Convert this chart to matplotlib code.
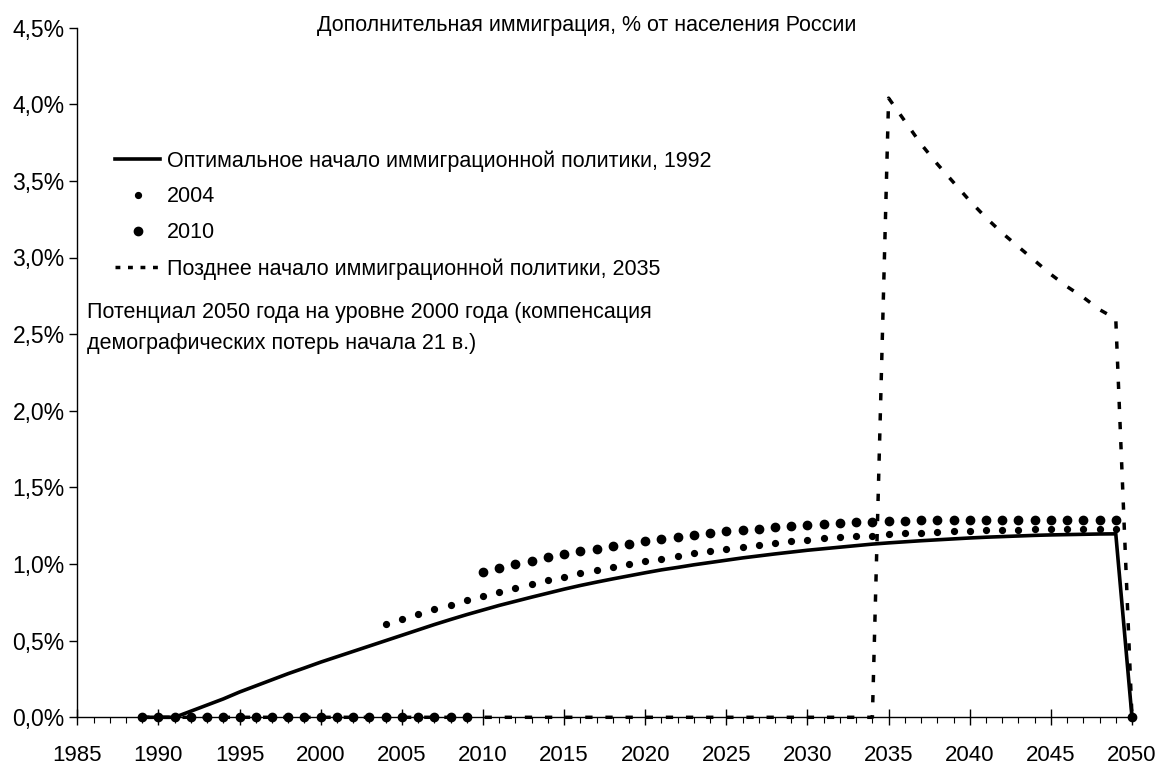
import matplotlib
matplotlib.use('Agg')
import matplotlib.pyplot as plt
from matplotlib.ticker import MultipleLocator, FuncFormatter
from matplotlib.lines import Line2D
from matplotlib import font_manager
from matplotlib.font_manager import FontProperties

# ---------------- data (values in % of population) ----------------
years = list(range(1989, 2051))

optimal_1992 = [0, 0, 0,
                0.04, 0.08, 0.12, 0.165, 0.205, 0.245, 0.285, 0.322,
                0.36, 0.395, 0.43, 0.465, 0.50, 0.535, 0.57, 0.605, 0.638, 0.67,
                0.70, 0.73, 0.757, 0.784, 0.81, 0.836, 0.86, 0.882, 0.903, 0.923,
                0.943, 0.962, 0.978, 0.995, 1.01, 1.025, 1.04, 1.053, 1.066, 1.078,
                1.09, 1.10, 1.11, 1.12, 1.13, 1.138, 1.145, 1.152, 1.158, 1.164,
                1.17, 1.175, 1.179, 1.183, 1.187, 1.19, 1.192, 1.194, 1.196, 1.197,
                0]

start_2004 = [0] * 15 + [
    0.609, 0.641, 0.674, 0.704, 0.735, 0.763,
    0.791, 0.817, 0.846, 0.87, 0.896,
    0.917, 0.939, 0.961, 0.98, 1.0,
    1.02, 1.035, 1.052, 1.07, 1.085,
    1.098, 1.113, 1.124, 1.135, 1.15,
    1.158, 1.167, 1.176, 1.182, 1.186,
    1.195, 1.2, 1.205, 1.21, 1.213,
    1.217, 1.219, 1.223, 1.225, 1.227,
    1.229, 1.229, 1.231, 1.231, 1.231,
    0]

start_2010 = [0] * 21 + [
    0.95, 0.974, 0.998, 1.022, 1.044,
    1.065, 1.083, 1.098, 1.115, 1.133,
    1.148, 1.161, 1.174, 1.189, 1.202,
    1.213, 1.222, 1.23, 1.239, 1.251,
    1.257, 1.263, 1.268, 1.273, 1.277,
    1.281, 1.283, 1.285, 1.287, 1.29,
    1.29, 1.29, 1.29, 1.29, 1.29,
    1.289, 1.289, 1.288, 1.288, 1.287,
    0]

late_2035 = [0] * 46 + [
    4.04, 3.89, 3.74, 3.61, 3.49, 3.37, 3.26, 3.16, 3.07, 2.98,
    2.89, 2.81, 2.74, 2.66, 2.60,
    0]

labels = ["Оптимальное начало иммиграционной политики, 1992",
          "2004",
          "2010",
          "Позднее начало иммиграционной политики, 2035"]
title = "Дополнительная иммиграция, % от населения России"
note = ("Потенциал 2050 года на уровне 2000 года (компенсация\n"
        "демографических потерь начала 21 в.)")

# ---------------- fonts ----------------
def pick(name, default='Liberation Sans'):
    try:
        font_manager.findfont(FontProperties(family=name), fallback_to_default=False)
        return name
    except Exception:
        return default

REG = pick('Liberation Sans', 'DejaVu Sans')
plt.rcParams['font.family'] = [REG, 'DejaVu Sans']

# ---------------- figure ----------------
W, H = 1164, 769
fig = plt.figure(figsize=(W / 100, H / 100), dpi=100)
fig.patch.set_facecolor('white')
ax = fig.add_axes([77.3 / W, 1 - 717.3 / H, (1132 - 77.3) / W, (717.3 - 27.6) / H])

lw_line = 2.6
ax.plot(years, optimal_1992, color='black', lw=lw_line, solid_joinstyle='miter',
        zorder=3, clip_on=False)
ax.plot(years, start_2004, linestyle='none', marker='o', markersize=4.2,
        color='black', zorder=4, clip_on=False)
ax.plot(years, start_2010, linestyle='none', marker='o', markersize=6.0,
        color='black', zorder=4, clip_on=False)
ax.plot(years, late_2035, color='black', lw=2.5, linestyle=(0, (2.1, 3.7)),
        dash_capstyle='butt', zorder=5, clip_on=False)

ax.set_xlim(1985, 2050)
ax.set_ylim(0, 4.5)
ax.xaxis.set_major_locator(MultipleLocator(5))
ax.xaxis.set_minor_locator(MultipleLocator(1))
ax.yaxis.set_major_locator(MultipleLocator(0.5))
ax.yaxis.set_major_formatter(FuncFormatter(lambda v, p: f"{v:.1f}%".replace('.', ',')))

for s in ['top', 'right']:
    ax.spines[s].set_visible(False)
for s in ['left', 'bottom']:
    ax.spines[s].set_linewidth(1.0)

ax.tick_params(axis='x', which='major', direction='inout', length=11.5, width=1.0,
               pad=14, labelsize=16)
ax.tick_params(axis='x', which='minor', direction='out', length=4.3, width=0.8)
ax.tick_params(axis='y', which='major', direction='out', length=6, width=1.0,
               pad=3, labelsize=16.5)

# ---------------- legend ----------------
handles = [
    Line2D([], [], color='black', lw=lw_line),
    Line2D([], [], linestyle='none', marker='o', markersize=4.2, color='black'),
    Line2D([], [], linestyle='none', marker='o', markersize=6.0, color='black'),
    Line2D([], [], color='black', lw=2.5, linestyle=(0, (1.4, 2.2)), dash_capstyle='butt'),
]
leg = fig.legend(handles, labels, loc='upper left',
                 bbox_to_anchor=(115 / W, 1 - 150 / H), frameon=False,
                 fontsize=15.5, handlelength=2.1, handletextpad=0.3,
                 labelspacing=0.69, borderpad=0, borderaxespad=0, numpoints=1)

fig.text(587 / W, 1 - 25 / H, title, ha='center', va='center', fontsize=15.5)
fig.text(87 / W, 1 - 302 / H, note, ha='left', va='top', fontsize=15.5, linespacing=1.62)

fig.savefig('out.png', dpi=100, facecolor='white')
